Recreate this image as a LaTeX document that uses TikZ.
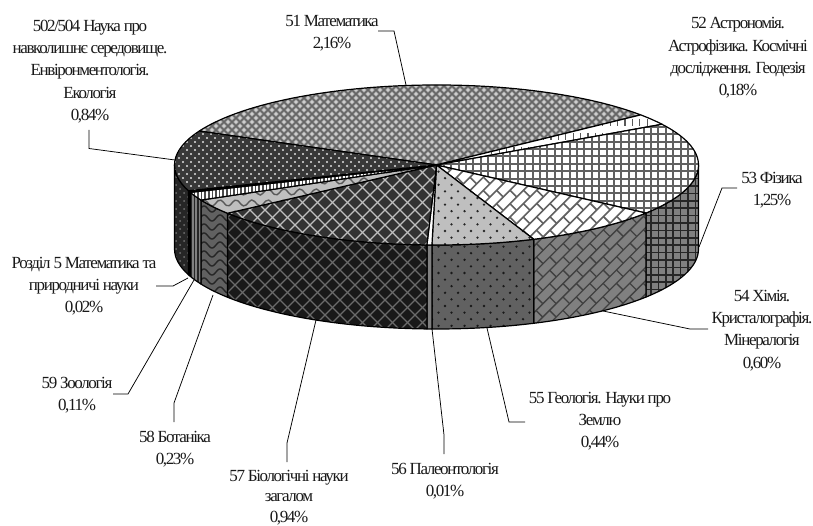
\documentclass[tikz,border=0pt]{standalone}
\usepackage{fontspec}
\setmainfont[LetterSpace=-8]{Liberation Serif}
\def\cx{436.5}\def\cy{165}\def\rx{262}\def\ry{80}\def\dep{84}
\newcommand\toppath[2]{(\cx,\cy) -- ({\cx+\rx*cos(#1)},{\cy+\ry*sin(#1)}) arc[start angle=#1,end angle=#2,x radius=\rx,y radius=\ry] -- cycle}
\newcommand\sidepath[2]{({\cx+\rx*cos(#1)},{\cy+\ry*sin(#1)}) arc[start angle=#1,end angle=#2,x radius=\rx,y radius=\ry] -- ++(0,\dep) arc[start angle=#2,end angle=#1,x radius=\rx,y radius=\ry] -- cycle}
\newcommand\wedgetop[4]{\begin{scope}\clip \toppath{#1}{#2};\fill[#3] (150,60) rectangle (720,345);#4\end{scope}\draw[edge] \toppath{#1}{#2};}
\newcommand\wedgeside[4]{\begin{scope}\clip \sidepath{#1}{#2};\fill[#3] (150,60) rectangle (720,345);#4\end{scope}\draw[edge] \sidepath{#1}{#2};}
% diagonal lattice: colour, width, period
\newcommand\patdiag[3]{\foreach \i in {0,...,110}{%
  \draw[#1,line width=#2] ({-170+\i*#3},0) -- ++(345,345);
  \draw[#1,line width=#2] ({250+\i*#3},0) -- ++(-345,345);}}
% square grid: colour, width, period
\newcommand\patgrid[3]{\foreach \i in {0,...,75}{%
  \draw[#1,line width=#2] ({170+\i*#3},75) -- ++(0,275);}
  \foreach \i in {0,...,38}{\draw[#1,line width=#2] (165,{75+\i*#3}) -- ++(545,0);}}
% staggered dots: colour, radius, dx, dy, xmin, ymin, cols, rows
\newcommand\patdots[8]{\foreach \j in {0,...,#8}{\pgfmathtruncatemacro\oddrow{mod(\j,2)}%
  \foreach \i in {0,...,#7}{\fill[#1] ({#5+(\i+0.5*\oddrow)*#3},{#6+\j*#4}) circle[radius=#2];}}}
% waves: colour, width, row spacing, xmin, xmax, ymin, rows
\newcommand\patwave[7]{\foreach \j in {0,...,#7}{%
  \draw[#1,line width=#2] plot[domain=#4:#5,samples=90,smooth] (\x,{#6+\j*#3+3*sin(\x*22.5)});}}
% vertical stripes: colour, width, period, xmin, cols
\newcommand\patstripes[5]{\foreach \i in {0,...,#5}{\draw[#1,line width=#2] ({#4+\i*#3},75) -- ++(0,275);}}
% diagonal bricks: colour, width
\newcommand\patbrick[2]{\begin{scope}[shift={(590,230)},rotate=-45]
  \foreach \k in {-20,...,20}{\pgfmathtruncatemacro\oddrow{mod(\k+100,2)}%
    \draw[#1,line width=#2] (-200,{\k*9.4}) -- (200,{\k*9.4});
    \foreach \m in {-11,...,11}{\draw[#1,line width=#2] ({(\m+0.5*\oddrow)*19},{\k*9.4}) -- ++(0,9.4);}}
  \end{scope}}
\tikzset{edge/.style={draw=black,line width=1.2pt,line join=round},
  lead/.style={draw=black,line width=.75pt},
  lab/.style={align=center,inner sep=0pt,font=\fontsize{17}{22.3}\selectfont,text=black!90}}
\begin{document}
\begin{tikzpicture}[x=1pt,y=1pt,yscale=-1]
\useasboundingbox (0,0) rectangle (813,526);
\fill[white] (0,0) rectangle (813,526);
% sides
\wedgeside{0}{36.9}{black!50}{\patgrid{black!85}{1.7}{7.4}}
\wedgeside{36.9}{68.2}{black!50}{\patbrick{black!75}{1.3}}
\wedgeside{68.2}{91}{black!62}{\patdots{black!90}{1.3}{13}{6.6}{432}{240}{8}{14}}
\wedgeside{91}{92.1}{black!50}{}
\wedgeside{92.1}{142.9}{black!90}{\patdiag{black!58}{1.2}{15}}
\wedgeside{142.9}{154}{black!62}{\patwave{black!85}{1.4}{9}{198}{232}{200}{12}}
\wedgeside{154}{160}{black!50}{\patstripes{black!85}{1.5}{3.6}{191}{3}}
\wedgeside{160}{161.2}{black}{}
\wedgeside{161.2}{180}{black!85}{\patdots{black!55}{1}{8}{4}{172}{165}{3}{25}}
% tops
\wedgetop{205.1}{321.2}{black!30}{\patdiag{black!60}{1.6}{8}\patdots{black!18}{1.3}{8}{4}{196}{82}{57}{21}}
\wedgetop{321.2}{329.4}{white}{\foreach \i in {0,...,28}{\draw[black!65,line width=1.2pt,dash pattern=on 7pt off 7pt] ({440+\i*7.4},105) -- ++(0,60);}}
\wedgetop{329.4}{396.9}{white}{\patgrid{black!62}{2}{7.4}}
\wedgetop{36.9}{68.2}{white}{\patbrick{black!62}{1.6}}
\wedgetop{68.2}{91}{black!25}{\patdots{black!85}{1.3}{13}{6.6}{432}{165}{9}{13}}
\wedgetop{91}{92.1}{white}{}
\wedgetop{92.1}{142.9}{black!80}{\patdiag{black!25}{1.4}{15}}
\wedgetop{142.9}{154}{black!25}{\patwave{black!65}{1.4}{11}{190}{440}{170}{5}}
\wedgetop{154}{160}{white}{\patstripes{black!70}{1.6}{3.6}{180}{72}}
\wedgetop{160}{161.2}{black}{}
\wedgetop{161.2}{205.1}{black!78}{\patdots{black!12}{1.05}{8}{4}{175}{130}{33}{16}}
% labels
\node[lab] (l502) at (90,71.5) {502/504 Наука про\\навколишнє середовище.\\Енвіронментологія.\\Екологія\\0,84\%};
\node[lab] (l51) at (332,33.5) {51 Математика\\2,16\%};
\node[lab] (l52) at (738,58) {52 Астрономія.\\Астрофізика. Космічні\\дослідження. Геодезія\\0,18\%};
\node[lab] (l53) at (772,190) {53 Фізика\\1,25\%};
\node[lab] (l54) at (762,330.5) {54 Хімія.\\Кристалографія.\\Мінералогія\\0,60\%};
\node[lab] (l55) at (600,421) {55 Геологія. Науки про\\Землю\\0,44\%};
\node[lab] (l56) at (445,481) {56 Палеонтологія\\0,01\%};
\node[lab,font=\fontsize{17}{20.5}\selectfont] (l57) at (289,497.5) {57 Біологічні науки\\загалом\\0,94\%};
\node[lab] (l58) at (175,449) {58 Ботаніка\\0,23\%};
\node[lab] (l59) at (77,395) {59 Зоологія\\0,11\%};
\node[lab] (l5) at (84,286) {Розділ 5 Математика та\\природничі науки\\0,02\%};
% leader points
\coordinate (s502) at (89,130);\coordinate (b502) at (89,148.5);\coordinate (e502) at (175,160);
\coordinate (s51) at (378,31);\coordinate (b51) at (394,31);\coordinate (e51) at (406,85);
\coordinate (s53) at (737,188);\coordinate (b53) at (722,188);\coordinate (e53) at (699,247);
\coordinate (s54) at (708,329);\coordinate (b54) at (690,329);\coordinate (e54) at (603,311);
\coordinate (s55) at (525,422);\coordinate (b55) at (509,422);\coordinate (e55) at (487,328);
\coordinate (s56) at (444,454);\coordinate (b56) at (444,435);\coordinate (e56) at (432,329);
\coordinate (s57) at (287,462);\coordinate (b57) at (287,443);\coordinate (e57) at (316,320);
\coordinate (s58) at (174,422);\coordinate (b58) at (174,403);\coordinate (e58) at (213,295);
\coordinate (s59) at (113,394);\coordinate (b59) at (128,394);\coordinate (e59) at (194,280);
\coordinate (s5) at (156,286);\coordinate (b5) at (173,286);\coordinate (e5) at (188,278);
\draw[lead] (s502) -- (b502) -- (e502);
\draw[lead] (s51) -- (b51) -- (e51);
\draw[lead] (s53) -- (b53) -- (e53);
\draw[lead] (s54) -- (b54) -- (e54);
\draw[lead] (s55) -- (b55) -- (e55);
\draw[lead] (s56) -- (b56) -- (e56);
\draw[lead] (s57) -- (b57) -- (e57);
\draw[lead] (s58) -- (b58) -- (e58);
\draw[lead] (s59) -- (b59) -- (e59);
\draw[lead] (s5) -- (b5) -- (e5);
\end{tikzpicture}
\end{document}
